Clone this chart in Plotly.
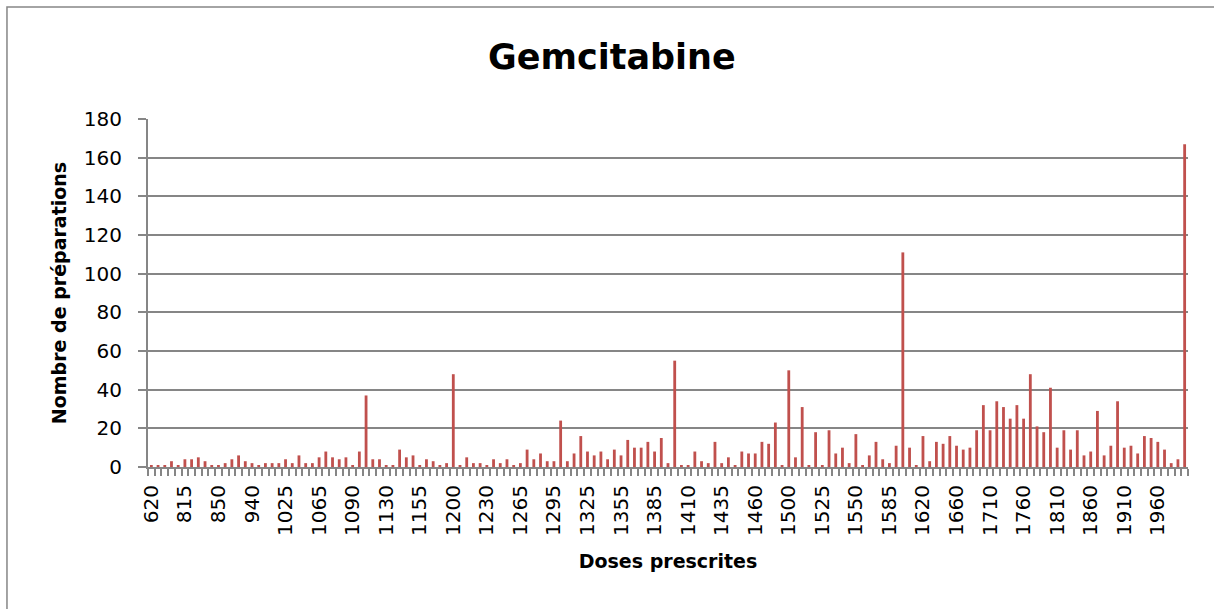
import plotly.graph_objects as go

# Doses prescrites (catégories) et nombre de préparations
doses = [
    620, 700, 750, 780, 800,
    815, 820, 825, 830, 840,
    850, 860, 880, 900, 920,
    940, 950, 970, 990, 1000,
    1025, 1030, 1040, 1050, 1060,
    1065, 1070, 1075, 1080, 1085,
    1090, 1095, 1100, 1110, 1120,
    1130, 1135, 1140, 1145, 1150,
    1155, 1160, 1170, 1180, 1190,
    1200, 1205, 1210, 1215, 1220,
    1230, 1240, 1245, 1250, 1260,
    1265, 1270, 1275, 1280, 1290,
    1295, 1300, 1305, 1310, 1320,
    1325, 1330, 1335, 1340, 1350,
    1355, 1360, 1365, 1370, 1380,
    1385, 1390, 1400, 1405, 1408,
    1410, 1415, 1420, 1425, 1430,
    1435, 1440, 1445, 1450, 1455,
    1460, 1465, 1470, 1480, 1490,
    1500, 1505, 1510, 1515, 1520,
    1525, 1530, 1535, 1540, 1545,
    1550, 1560, 1565, 1570, 1580,
    1585, 1590, 1600, 1610, 1615,
    1620, 1630, 1640, 1650, 1655,
    1660, 1670, 1680, 1690, 1700,
    1710, 1720, 1730, 1740, 1750,
    1760, 1770, 1780, 1790, 1800,
    1810, 1820, 1830, 1840, 1850,
    1860, 1870, 1880, 1890, 1900,
    1910, 1920, 1930, 1940, 1950,
    1960, 1970, 1980, 1990, 2000,
]

preparations = [
    1, 1, 1, 3, 1, 4, 4, 5, 3, 1,
    1, 2, 4, 6, 3, 2, 1, 2, 2, 2,
    4, 2, 6, 2, 2, 5, 8, 5, 4, 5,
    1, 8, 37, 4, 4, 1, 1, 9, 5, 6,
    1, 4, 3, 1, 2, 48, 1, 5, 2, 2,
    1, 4, 2, 4, 1, 2, 9, 4, 7, 3,
    3, 24, 3, 7, 16, 8, 6, 8, 4, 9,
    6, 14, 10, 10, 13, 8, 15, 2, 55, 1,
    1, 8, 3, 2, 13, 2, 5, 1, 8, 7,
    7, 13, 12, 23, 1, 50, 5, 31, 1, 18,
    1, 19, 7, 10, 2, 17, 1, 6, 13, 4,
    2, 11, 111, 10, 1, 16, 3, 13, 12, 16,
    11, 9, 10, 19, 32, 19, 34, 31, 25, 32,
    25, 48, 21, 18, 41, 10, 19, 9, 19, 6,
    8, 29, 6, 11, 34, 10, 11, 7, 16, 15,
    13, 9, 2, 4, 167,
]

# une étiquette toutes les 5 catégories, comme dans Excel
categories = [str(d) for d in doses]
tick_text = [c if i % 5 == 0 else "" for i, c in enumerate(categories)]

police = "DejaVu Sans"
gris = "#868686"

fig = go.Figure()
fig.add_trace(go.Bar(
    x=categories,
    y=preparations,
    marker_color="#C0504D",
    marker_line_width=0,
    width=0.42,
))

fig.update_layout(
    width=1214,
    height=609,
    margin=dict(l=148, r=26, t=119, b=142),
    paper_bgcolor="white",
    plot_bgcolor="white",
    showlegend=False,
    font=dict(family=police, size=20, color="black"),
    title=dict(
        text="<b>Gemcitabine</b>",
        font=dict(family=police, size=35, color="black"),
        x=0.504, xref="container", xanchor="center",
        y=1 - 57 / 609, yref="container", yanchor="middle",
    ),
)

fig.update_xaxes(
    type="category",
    categoryorder="array",
    categoryarray=categories,
    tickmode="array",
    tickvals=categories,
    ticktext=tick_text,
    tickson="boundaries",
    tickangle=-90,
    ticks="outside",
    ticklen=7,
    tickcolor=gris,
    tickwidth=1.5,
    ticklabelstandoff=8,
    showline=True,
    linecolor=gris,
    linewidth=2,
    showgrid=False,
    tickfont=dict(family=police, size=20),
    title=dict(text="<b>Doses prescrites</b>", font=dict(family=police, size=19), standoff=20),
)

fig.update_yaxes(
    range=[0, 180],
    dtick=20,
    showgrid=True,
    gridcolor=gris,
    gridwidth=2,
    zeroline=False,
    showline=True,
    linecolor=gris,
    linewidth=2,
    ticks="outside",
    ticklen=8,
    tickcolor=gris,
    tickwidth=1.5,
    ticklabelstandoff=12,
    tickfont=dict(family=police, size=20),
    title=dict(text="<b>Nombre de préparations</b>", font=dict(family=police, size=19), standoff=12),
)

# cadre du graphique
fig.add_shape(
    type="rect", xref="paper", yref="paper",
    x0=-0.1356, x1=1.2, y0=-0.6, y1=1.322,
    line=dict(color=gris, width=1.5), fillcolor="rgba(0,0,0,0)", layer="below",
)

# la page n'a pas de marge autour du graphique
fig.write_html(
    "out.html",
    config={"displayModeBar": False},
    post_script="document.body.style.margin='0';",
)
